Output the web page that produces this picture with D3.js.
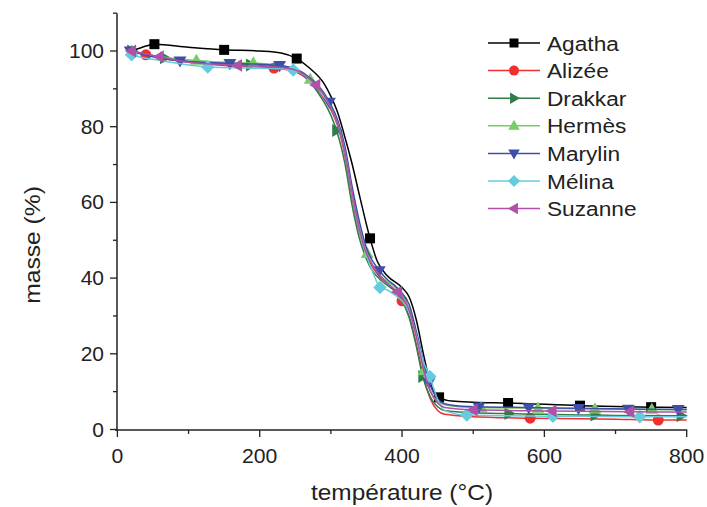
<!DOCTYPE html>
<html><head><meta charset="utf-8">
<script src="https://cdn.jsdelivr.net/npm/d3@7"></script>
<style>body{margin:0;background:#fff}svg{display:block}text{font-family:"Liberation Sans",Arial,sans-serif;fill:#222}</style>
</head><body><svg id="c" width="707" height="507"></svg>
<script>
const xTicks = [0, 200, 400, 600, 800];
const yTicks = [0, 20, 40, 60, 80, 100];
const names = ["Agatha", "Alizée", "Drakkar", "Hermès", "Marylin", "Mélina", "Suzanne"];
const colors = ["#000000", "#ee3030", "#2e7d4a", "#77cc66", "#3d4fa8", "#66ccdd", "#b050a8"];
const symbols = ["square", "circle", "right", "up", "down", "diamond", "left"];

const agatha = [[20,100],[35,101],[52,101.8],[100,101],[150,100.3],[200,100],[230,99.5],[252,98],[270,95.5],[290,91.5],[300,88],[310,83.5],[320,77],[330,70],[340,62],[355,50.5],[365,44.5],[380,40.5],[400,37.5],[410,35],[420,29],[430,20],[440,12],[452,8.5],[470,7.5],[500,7.2],[549,7],[650,6.3],[750,5.9],[800,5.8]];
const alizee = [[20,100],[40,99],[100,97],[150,96.2],[220,95.5],[250,94.5],[270,92],[290,87.5],[300,84.5],[310,80],[320,72],[330,61],[340,52],[350,46],[360,42.5],[370,40],[380,38.5],[390,36.5],[400,34],[410,30],[420,22.5],[430,14],[440,8],[450,5],[460,4],[500,3.4],[580,3],[700,2.7],[760,2.5],[800,2.5]];
const drakkar = [[20,100],[66,98.2],[100,97.3],[150,96.6],[187,96.3],[240,95.5],[260,93.8],[280,89.5],[300,83],[308,79],[320,70],[330,59],[340,50.5],[350,45],[360,41.5],[370,39.5],[380,38],[390,36.5],[400,34],[410,29.5],[420,22],[429,14],[440,8.5],[450,6],[460,5],[500,4.4],[550,4.2],[600,4],[671,3.8],[700,3.7],[792,3.6],[800,3.6]];
const hermes = [[20,100],[31,99.5],[60,98.5],[111,97.5],[150,97],[191,96.8],[230,96.2],[260,94.2],[271,92.5],[290,88],[300,85.5],[310,81],[320,73.5],[330,63],[340,53.5],[351,46.5],[360,43],[370,40.5],[380,39],[390,37.5],[400,35.5],[410,32],[420,25],[431,15.5],[440,10],[450,7.5],[460,6.5],[480,6],[511,5.8],[591,5.6],[671,5.4],[751,5.3],[800,5.2]];
const marylin = [[18,100],[50,98.5],[88,97.4],[120,97],[158,96.7],[200,96.5],[228,96.2],[250,95.3],[270,93],[290,89],[298,86.5],[310,81.5],[320,74.5],[330,64],[340,55],[350,48],[368,42],[380,39.5],[390,38],[400,36],[410,33],[420,26],[438,12.5],[450,8],[460,6.8],[480,6.2],[508,6],[578,5.8],[648,5.6],[718,5.4],[788,5.3],[800,5.3]];
const melina = [[20,99],[30,98.5],[60,97.5],[127,95.8],[180,95.5],[220,95.4],[247,95],[270,92.5],[290,88],[300,85],[310,80.5],[320,73],[330,62],[340,52.5],[350,46],[360,41],[369,37.5],[380,36.8],[390,35.5],[400,34],[410,31],[420,25],[430,18],[439,14],[450,8],[460,5],[491,3.8],[550,3.6],[612,3.5],[734,3.4],[800,3.4]];
const suzanne = [[20,100],[59,98.5],[100,97],[169,96.2],[220,95.8],[250,95],[279,91],[290,88.5],[300,85],[310,80.5],[320,73],[330,62.5],[340,53],[350,46.5],[360,43],[370,40.5],[380,38.5],[394,36.3],[400,35],[410,31.5],[420,24.5],[430,16],[440,10],[450,7],[460,5.8],[500,5.2],[611,4.9],[720,4.7],[800,4.6]];

const agathaMk = [52,150,252,355,452,549,650,750];
const alizeeMk = [40,220,400,580,760];
const drakkarMk = [20,66,187,308,429,550,671,792];
const hermesMk = [20,111,191,271,351,431,511,591,671,751];
const marylinMk = [18,88,158,228,298,368,438,508,578,648,718,788];
const melinaMk = [20,127,247,369,439,491,612,734];
const suzanneMk = [20,59,169,279,394,500,611,720];

const seriesData = [agatha, alizee, drakkar, hermes, marylin, melina, suzanne];
const markerTemps = [agathaMk, alizeeMk, drakkarMk, hermesMk, marylinMk, melinaMk, suzanneMk];

const svg = d3.select("#c");
const x = d3.scaleLinear().domain([0, 800]).range([117.4, 686.7]);
const y = d3.scaleLinear().domain([0, 100]).range([429.5, 51]);

// stretched text helper (reference glyphs are slightly wide)
function stext(g, tx, ty, str, size, anchor, sx) {
  return g.append("text")
    .attr("transform", `translate(${tx},${ty}) scale(${sx},1)`)
    .attr("text-anchor", anchor).attr("font-size", size).text(str);
}

// axes
const xAxis = svg.append("g").attr("transform", "translate(0,430)");
xAxis.append("line").attr("x1", 115).attr("x2", x(800)+0.5).attr("stroke", "#222").attr("stroke-width", 1.5);
xAxis.selectAll(".mj").data(xTicks).join("line").attr("x1", d => x(d)).attr("x2", d => x(d)).attr("y1", 0).attr("y2", 7).attr("stroke", "#222").attr("stroke-width", 1.3);
xAxis.selectAll(".mn").data(d3.range(100, 800, 200)).join("line").attr("x1", d => x(d)).attr("x2", d => x(d)).attr("y1", 0).attr("y2", 4).attr("stroke", "#222").attr("stroke-width", 1.3);
xTicks.forEach(d => stext(xAxis, x(d), 33, d, 20, "middle", 1.06));

const yAxis = svg.append("g");
yAxis.append("line").attr("x1", 117).attr("x2", 117).attr("y1", y(110)).attr("y2", 431).attr("stroke", "#222").attr("stroke-width", 1.5);
yAxis.selectAll(".mj").data(yTicks).join("line").attr("x1", 110).attr("x2", 117).attr("y1", d => y(d)).attr("y2", d => y(d)).attr("stroke", "#222").attr("stroke-width", 1.3);
yAxis.selectAll(".mn").data(d3.range(10, 120, 20)).join("line").attr("x1", 113).attr("x2", 117).attr("y1", d => y(d)).attr("y2", d => y(d)).attr("stroke", "#222").attr("stroke-width", 1.3);
yTicks.forEach(d => stext(yAxis, 104, y(d) + 7, d, 20, "end", 1.05));

stext(svg, 402, 500, "température (°C)", 22, "middle", 1.11);
svg.append("text").attr("transform", "translate(40,245) rotate(-90) scale(1.12,1)").attr("text-anchor", "middle").attr("font-size", 22).text("masse (%)");

function sym(g, s, cx, cy, color, r) {
  if (s === "square") g.append("rect").attr("x", cx - r).attr("y", cy - r).attr("width", 2*r).attr("height", 2*r).attr("fill", color);
  else if (s === "circle") g.append("circle").attr("cx", cx).attr("cy", cy).attr("r", r + 0.5).attr("fill", color);
  else {
    const R = r * 1.35;
    let pts;
    if (s === "up") pts = [[0,-R],[R*0.95,R*0.65],[-R*0.95,R*0.65]];
    else if (s === "down") pts = [[0,R],[R*0.95,-R*0.65],[-R*0.95,-R*0.65]];
    else if (s === "right") pts = [[R,0],[-R*0.65,R*0.95],[-R*0.65,-R*0.95]];
    else if (s === "left") pts = [[-R,0],[R*0.65,R*0.95],[R*0.65,-R*0.95]];
    else pts = [[0,-R],[R,0],[0,R],[-R,0]];
    g.append("polygon").attr("points", pts.map(p => (cx + p[0]) + "," + (cy + p[1])).join(" ")).attr("fill", color);
  }
}

const line = d3.line().x(d => x(d[0])).y(d => y(d[1])).curve(d3.curveMonotoneX);
seriesData.forEach((data, i) => {
  const g = svg.append("g");
  g.append("path").attr("d", line(data)).attr("fill", "none").attr("stroke", colors[i]).attr("stroke-width", 1.5);
  data.filter(d => markerTemps[i].includes(d[0])).forEach(d => sym(g, symbols[i], x(d[0]), y(d[1]), colors[i], 5));
});

// legend
names.forEach((n, i) => {
  const ly = 43 + i * 27.6;
  const g = svg.append("g");
  g.append("line").attr("x1", 488).attr("x2", 540).attr("y1", ly).attr("y2", ly).attr("stroke", colors[i]).attr("stroke-width", 1.5);
  sym(g, symbols[i], 514, ly, colors[i], 4.5);
  stext(g, 547, ly + 7.5, n, 21, "start", 1.08);
});
</script></body></html>
